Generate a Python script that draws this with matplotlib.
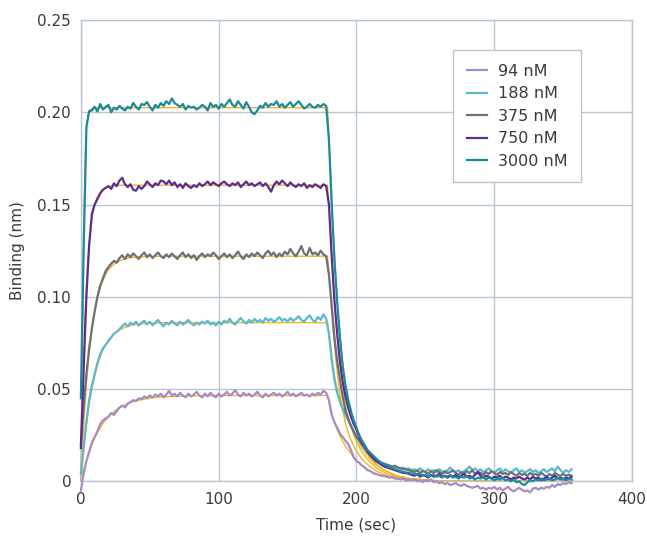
import numpy as np
import matplotlib

matplotlib.use("Agg")
import matplotlib.pyplot as plt

# --- data
time_sec = np.arange(0, 358, 2)  # 0 .. 356 s, 179 samples

labels = ["94 nM", "188 nM", "375 nM", "750 nM", "3000 nM"]

nm94 = [
    -0.0050, 0.0040, 0.0110, 0.0160, 0.0210, 0.0240, 0.0270, 0.0310, 0.0330, 0.0340,
    0.0350, 0.0370, 0.0360, 0.0380, 0.0400, 0.0410, 0.0400, 0.0420, 0.0430, 0.0440,
    0.0435, 0.0450, 0.0445, 0.0460, 0.0450, 0.0465, 0.0455, 0.0470, 0.0460, 0.0475,
    0.0455, 0.0470, 0.0490, 0.0465, 0.0475, 0.0460, 0.0480, 0.0465, 0.0455, 0.0475,
    0.0460, 0.0470, 0.0485, 0.0465, 0.0455, 0.0475, 0.0460, 0.0480, 0.0465, 0.0455,
    0.0475, 0.0460, 0.0470, 0.0485, 0.0465, 0.0475, 0.0495, 0.0470, 0.0460, 0.0480,
    0.0465, 0.0475, 0.0460, 0.0470, 0.0485, 0.0465, 0.0455, 0.0475, 0.0460, 0.0470,
    0.0480, 0.0465, 0.0475, 0.0460, 0.0470, 0.0485, 0.0465, 0.0475, 0.0460, 0.0470,
    0.0480, 0.0465, 0.0470, 0.0460, 0.0475, 0.0465, 0.0480, 0.0470, 0.0490, 0.0480,
    0.0440, 0.0360, 0.0320, 0.0290, 0.0260, 0.0240, 0.0220, 0.0200, 0.0170, 0.0130,
    0.0110, 0.0100, 0.0085, 0.0075, 0.0060, 0.0055, 0.0045, 0.0040, 0.0035, 0.0030,
    0.0030, 0.0025, 0.0020, 0.0025, 0.0015, 0.0015, 0.0010, 0.0015, 0.0005, 0.0010,
    0.0005, 0.0010, 0.0000, 0.0005, -0.0005, 0.0005, 0.0000, 0.0010, -0.0005, 0.0000,
    -0.0010, -0.0005, -0.0015, -0.0010, -0.0020, -0.0015, -0.0010, -0.0020, -0.0025, -0.0015,
    -0.0025, -0.0030, -0.0035, -0.0030, -0.0025, -0.0040, -0.0035, -0.0045, -0.0035, -0.0040,
    -0.0030, -0.0045, -0.0035, -0.0050, -0.0040, -0.0030, -0.0045, -0.0055, -0.0045, -0.0035,
    -0.0045, -0.0055, -0.0050, -0.0060, -0.0040, -0.0035, -0.0045, -0.0035, -0.0040, -0.0030,
    -0.0035, -0.0020, -0.0030, -0.0015, -0.0020, -0.0010, -0.0015, -0.0005, -0.0010,
]

nm188 = [
    0.0040, 0.0180, 0.0320, 0.0440, 0.0520, 0.0580, 0.0640, 0.0690, 0.0720, 0.0740,
    0.0760, 0.0780, 0.0800, 0.0810, 0.0825, 0.0840, 0.0855, 0.0840, 0.0860, 0.0850,
    0.0865, 0.0845, 0.0860, 0.0870, 0.0850, 0.0865, 0.0845, 0.0860, 0.0875, 0.0855,
    0.0840, 0.0860, 0.0850, 0.0870, 0.0855, 0.0845, 0.0865, 0.0850, 0.0860, 0.0875,
    0.0855, 0.0845, 0.0860, 0.0850, 0.0865, 0.0855, 0.0870, 0.0850, 0.0860, 0.0845,
    0.0865, 0.0850, 0.0870, 0.0860, 0.0880, 0.0860, 0.0850, 0.0870, 0.0885, 0.0865,
    0.0855, 0.0875, 0.0860, 0.0880, 0.0865, 0.0875, 0.0860, 0.0885, 0.0870, 0.0880,
    0.0865, 0.0875, 0.0890, 0.0870, 0.0880, 0.0865, 0.0885, 0.0870, 0.0880, 0.0895,
    0.0875, 0.0865, 0.0885, 0.0900, 0.0875, 0.0865, 0.0890, 0.0875, 0.0905, 0.0880,
    0.0800, 0.0660, 0.0550, 0.0480, 0.0430, 0.0390, 0.0360, 0.0330, 0.0300, 0.0270,
    0.0240, 0.0220, 0.0200, 0.0175, 0.0160, 0.0145, 0.0130, 0.0120, 0.0110, 0.0100,
    0.0095, 0.0090, 0.0085, 0.0080, 0.0085, 0.0075, 0.0070, 0.0075, 0.0065, 0.0070,
    0.0060, 0.0065, 0.0055, 0.0070, 0.0060, 0.0050, 0.0065, 0.0055, 0.0060, 0.0050,
    0.0065, 0.0055, 0.0045, 0.0060, 0.0075, 0.0055, 0.0050, 0.0060, 0.0045, 0.0055,
    0.0065, 0.0080, 0.0060, 0.0070, 0.0055, 0.0065, 0.0050, 0.0060, 0.0070, 0.0055,
    0.0045, 0.0060, 0.0070, 0.0050, 0.0065, 0.0055, 0.0045, 0.0060, 0.0070, 0.0050,
    0.0060, 0.0045, 0.0055, 0.0065, 0.0050, 0.0060, 0.0045, 0.0055, 0.0065, 0.0050,
    0.0060, 0.0070, 0.0055, 0.0080, 0.0060, 0.0045, 0.0060, 0.0050, 0.0065,
]

nm375 = [
    0.0200, 0.0400, 0.0580, 0.0720, 0.0830, 0.0920, 0.1000, 0.1060, 0.1100, 0.1140,
    0.1160, 0.1180, 0.1195, 0.1185, 0.1210, 0.1225, 0.1205, 0.1230, 0.1215, 0.1235,
    0.1220, 0.1205, 0.1225, 0.1240, 0.1215, 0.1230, 0.1210, 0.1225, 0.1240, 0.1220,
    0.1210, 0.1230, 0.1215, 0.1235, 0.1220, 0.1205, 0.1225, 0.1240, 0.1215, 0.1230,
    0.1210, 0.1225, 0.1200, 0.1220, 0.1235, 0.1215, 0.1230, 0.1220, 0.1240, 0.1225,
    0.1205, 0.1220, 0.1235, 0.1215, 0.1230, 0.1210, 0.1225, 0.1245, 0.1220, 0.1205,
    0.1230, 0.1215, 0.1235, 0.1220, 0.1240, 0.1225, 0.1210, 0.1235, 0.1250, 0.1225,
    0.1240, 0.1215, 0.1235, 0.1220, 0.1245, 0.1230, 0.1260, 0.1235, 0.1220, 0.1245,
    0.1275, 0.1235, 0.1225, 0.1265, 0.1230, 0.1240, 0.1225, 0.1250, 0.1230, 0.1220,
    0.1120, 0.0950, 0.0780, 0.0650, 0.0550, 0.0460, 0.0380, 0.0340, 0.0300, 0.0270,
    0.0240, 0.0220, 0.0200, 0.0180, 0.0160, 0.0150, 0.0135, 0.0120, 0.0110, 0.0100,
    0.0095, 0.0090, 0.0085, 0.0080, 0.0080, 0.0075, 0.0070, 0.0065, 0.0065, 0.0060,
    0.0055, 0.0050, 0.0060, 0.0045, 0.0055, 0.0050, 0.0040, 0.0055, 0.0045, 0.0060,
    0.0050, 0.0040, 0.0055, 0.0045, 0.0050, 0.0060, 0.0045, 0.0035, 0.0050, 0.0040,
    0.0055, 0.0045, 0.0060, 0.0040, 0.0050, 0.0045, 0.0035, 0.0050, 0.0040, 0.0055,
    0.0045, 0.0035, 0.0050, 0.0040, 0.0045, 0.0035, 0.0050, 0.0040, 0.0030, 0.0045,
    0.0035, 0.0040, 0.0030, 0.0045, 0.0035, 0.0040, 0.0030, 0.0045, 0.0035, 0.0025,
    0.0040, 0.0030, 0.0045, 0.0035, 0.0030, 0.0040, 0.0030, 0.0035, 0.0030,
]

nm750 = [
    0.0180, 0.0600, 0.1000, 0.1280, 0.1450, 0.1500, 0.1530, 0.1560, 0.1580, 0.1590,
    0.1600, 0.1585, 0.1615, 0.1600, 0.1630, 0.1645, 0.1610, 0.1595, 0.1610, 0.1580,
    0.1575, 0.1600, 0.1585, 0.1600, 0.1625, 0.1610, 0.1595, 0.1615, 0.1605, 0.1630,
    0.1625, 0.1610, 0.1630, 0.1605, 0.1620, 0.1595, 0.1610, 0.1590, 0.1615, 0.1600,
    0.1590, 0.1605, 0.1595, 0.1615, 0.1600, 0.1610, 0.1625, 0.1605, 0.1620, 0.1610,
    0.1600, 0.1615, 0.1625, 0.1610, 0.1600, 0.1615, 0.1605, 0.1620, 0.1595, 0.1610,
    0.1625, 0.1605, 0.1615, 0.1600, 0.1610, 0.1620, 0.1600, 0.1615, 0.1595, 0.1570,
    0.1605, 0.1625, 0.1610, 0.1630, 0.1615, 0.1600, 0.1620, 0.1605, 0.1595, 0.1610,
    0.1600, 0.1615, 0.1590, 0.1605, 0.1595, 0.1610, 0.1600, 0.1590, 0.1610, 0.1600,
    0.1500, 0.1220, 0.0980, 0.0800, 0.0650, 0.0540, 0.0460, 0.0400, 0.0350, 0.0310,
    0.0280, 0.0240, 0.0210, 0.0190, 0.0160, 0.0140, 0.0125, 0.0110, 0.0100, 0.0090,
    0.0080, 0.0075, 0.0070, 0.0065, 0.0060, 0.0055, 0.0050, 0.0045, 0.0045, 0.0040,
    0.0035, 0.0030, 0.0040, 0.0025, 0.0035, 0.0030, 0.0020, 0.0035, 0.0025, 0.0030,
    0.0040, 0.0025, 0.0030, 0.0020, 0.0030, 0.0025, 0.0035, 0.0020, 0.0030, 0.0040,
    0.0025, 0.0030, 0.0020, 0.0035, 0.0050, 0.0030, 0.0020, 0.0030, 0.0025, 0.0015,
    0.0025, 0.0020, 0.0030, 0.0015, 0.0025, 0.0020, 0.0010, 0.0020, 0.0015, 0.0025,
    0.0015, 0.0010, 0.0020, 0.0010, 0.0025, 0.0015, 0.0020, 0.0005, 0.0015, 0.0025,
    0.0010, 0.0020, 0.0030, 0.0015, 0.0020, 0.0010, 0.0020, 0.0015, 0.0025,
]

nm3000 = [
    0.0450, 0.1250, 0.1920, 0.2005, 0.2010, 0.2030, 0.2005, 0.2045, 0.2015, 0.2030,
    0.2040, 0.2000, 0.2025, 0.2015, 0.2035, 0.2020, 0.2010, 0.2030, 0.2020, 0.2050,
    0.2030, 0.2015, 0.2045, 0.2040, 0.2055, 0.2030, 0.2010, 0.2040, 0.2025, 0.2050,
    0.2035, 0.2060, 0.2045, 0.2075, 0.2050, 0.2040, 0.2030, 0.2045, 0.2015, 0.2035,
    0.2025, 0.2030, 0.2015, 0.2025, 0.2040, 0.2030, 0.2010, 0.2050, 0.2030, 0.2040,
    0.2020, 0.2045, 0.2030, 0.2050, 0.2070, 0.2040, 0.2030, 0.2060, 0.2040, 0.2020,
    0.2055, 0.2030, 0.2000, 0.1990, 0.2010, 0.2035, 0.2025, 0.2050, 0.2030, 0.2045,
    0.2040, 0.2060, 0.2030, 0.2045, 0.2025, 0.2040, 0.2055, 0.2030, 0.2045, 0.2060,
    0.2040, 0.2020, 0.2030, 0.2045, 0.2030, 0.2025, 0.2040, 0.2030, 0.2045, 0.2035,
    0.1850, 0.1500, 0.1200, 0.0970, 0.0780, 0.0620, 0.0520, 0.0440, 0.0380, 0.0330,
    0.0290, 0.0250, 0.0220, 0.0195, 0.0170, 0.0155, 0.0140, 0.0125, 0.0110, 0.0100,
    0.0090, 0.0085, 0.0075, 0.0070, 0.0065, 0.0060, 0.0055, 0.0050, 0.0048, 0.0045,
    0.0042, 0.0040, 0.0035, 0.0040, 0.0030, 0.0035, 0.0025, 0.0030, 0.0035, 0.0025,
    0.0030, 0.0020, 0.0030, 0.0025, 0.0035, 0.0020, 0.0025, 0.0015, 0.0025, 0.0020,
    0.0030, 0.0015, 0.0020, 0.0010, 0.0020, 0.0015, 0.0025, 0.0010, 0.0020, 0.0015,
    0.0005, 0.0015, 0.0010, 0.0020, 0.0005, 0.0010, 0.0000, 0.0010, -0.0005, 0.0000,
    -0.0015, -0.0020, -0.0005, 0.0005, 0.0000, 0.0010, 0.0005, 0.0015, 0.0005, 0.0010,
    0.0015, 0.0005, 0.0010, 0.0020, 0.0010, 0.0015, 0.0005, 0.0015, 0.0010,
]

# fitted 1:1 model curves (orange), sampled at these times
fit_time = [
    0, 1, 2, 3, 4, 5, 6, 8, 10, 12, 15, 18, 21, 25, 30, 35, 40, 50, 60, 80, 100, 140, 179,
    181, 183, 185, 187, 189, 192, 195, 199, 204, 209, 214, 219, 229, 239, 259, 300, 357,
]
fit94 = [
    0.0, 0.0031, 0.0061, 0.0088, 0.0113, 0.0137, 0.0159, 0.0200, 0.0234, 0.0264, 0.0302,
    0.0333, 0.0358, 0.0384, 0.0408, 0.0425, 0.0437, 0.0451, 0.0458, 0.0463, 0.0465, 0.0465, 0.0465,
    0.0400, 0.0340, 0.0300, 0.0260, 0.0230, 0.0190, 0.0160, 0.0120, 0.0085, 0.0060,
    0.0040, 0.0028, 0.0013, 0.0006, 0.0001, 0.0, 0.0,
]
fit188 = [
    0.0, 0.0090, 0.0170, 0.0242, 0.0306, 0.0364, 0.0415, 0.0503, 0.0574, 0.0631, 0.0695,
    0.0741, 0.0775, 0.0805, 0.0828, 0.0842, 0.0850, 0.0857, 0.0859, 0.0860, 0.0860, 0.0860, 0.0860,
    0.0740, 0.0620, 0.0530, 0.0470, 0.0420, 0.0360, 0.0310, 0.0250, 0.0180, 0.0130,
    0.0090, 0.0065, 0.0030, 0.0014, 0.0003, 0.0, 0.0,
]
fit375 = [
    0.0, 0.0160, 0.0298, 0.0418, 0.0523, 0.0614, 0.0693, 0.0822, 0.0919, 0.0993, 0.1071,
    0.1122, 0.1156, 0.1183, 0.1202, 0.1211, 0.1215, 0.1219, 0.1220, 0.1220, 0.1220, 0.1220, 0.1220,
    0.1036, 0.0825, 0.0663, 0.0530, 0.0428, 0.0313, 0.0241, 0.0175, 0.0120, 0.0084,
    0.0057, 0.0039, 0.0018, 0.0008, 0.0002, 0.0, 0.0,
]
fit750 = [
    0.0, 0.0380, 0.0670, 0.0890, 0.1060, 0.1190, 0.1290, 0.1420, 0.1497, 0.1543, 0.1577,
    0.1593, 0.1599, 0.1603, 0.1605, 0.1605, 0.1605, 0.1605, 0.1605, 0.1605, 0.1605, 0.1605, 0.1605,
    0.1363, 0.1086, 0.0872, 0.0697, 0.0563, 0.0412, 0.0317, 0.0230, 0.0159, 0.0111,
    0.0075, 0.0052, 0.0024, 0.0011, 0.0002, 0.0, 0.0,
]
fit3000 = [
    0.0, 0.0700, 0.1300, 0.1700, 0.1900, 0.1980, 0.2010, 0.2022, 0.2025, 0.2025, 0.2025,
    0.2025, 0.2025, 0.2025, 0.2025, 0.2025, 0.2025, 0.2025, 0.2025, 0.2025, 0.2025, 0.2025, 0.2025,
    0.1720, 0.1370, 0.1100, 0.0880, 0.0710, 0.0520, 0.0400, 0.0290, 0.0200, 0.0140,
    0.0095, 0.0065, 0.0030, 0.0014, 0.0003, 0.0, 0.0,
]

series = [nm94, nm188, nm375, nm750, nm3000]
fits = [fit94, fit188, fit375, fit750, fit3000]
colors = ["#a68bc8", "#5bb8cc", "#6b7275", "#5c2d91", "#1a8a9e"]
fit_color = "#f5b324"
frame_color = "#b9c7d2"
text_color = "#3a3a3a"

plt.rcParams["font.family"] = ["DejaVu Sans"]

fig = plt.figure(figsize=(6.47, 5.42), dpi=100)
ax = fig.add_axes([0.125, 0.112, 0.852, 0.851])

for fit in fits:
    ax.plot(fit_time, fit, color=fit_color, linewidth=1.0, zorder=2, clip_on=False)

for values, color, label in zip(series, colors, labels):
    ax.plot(time_sec, values, color=color, linewidth=1.6, label=label, zorder=3, clip_on=False)

ax.set_xlim(0, 400)
ax.set_ylim(0, 0.25)
ax.set_xticks([0, 100, 200, 300, 400])
ax.set_xticklabels(["0", "100", "200", "300", "400"])
ax.set_yticks([0, 0.05, 0.10, 0.15, 0.20, 0.25])
ax.set_yticklabels(["0", "0.05", "0.10", "0.15", "0.20", "0.25"])
ax.tick_params(length=0, labelsize=11, colors=text_color)
ax.tick_params(axis="x", pad=8)
ax.tick_params(axis="y", pad=7)
ax.grid(True, color=frame_color, linewidth=1.0, zorder=0)
ax.set_axisbelow(True)
for spine in ax.spines.values():
    spine.set_color(frame_color)
    spine.set_linewidth(1.0)

ax.set_xlabel("Time (sec)", fontsize=11, color=text_color, labelpad=7)
ax.set_ylabel("Binding (nm)", fontsize=11, color=text_color, labelpad=9)

leg = ax.legend(
    loc="upper left",
    bbox_to_anchor=(0.675, 0.935),
    fontsize=11.5,
    frameon=True,
    fancybox=False,
    framealpha=1.0,
    edgecolor=frame_color,
    handlelength=1.3,
    handletextpad=0.65,
    labelspacing=0.47,
    borderpad=0.85,
    borderaxespad=0.0,
)
leg.get_frame().set_linewidth(1.0)
for txt in leg.get_texts():
    txt.set_color(text_color)

fig.savefig("out.png", dpi=100)
